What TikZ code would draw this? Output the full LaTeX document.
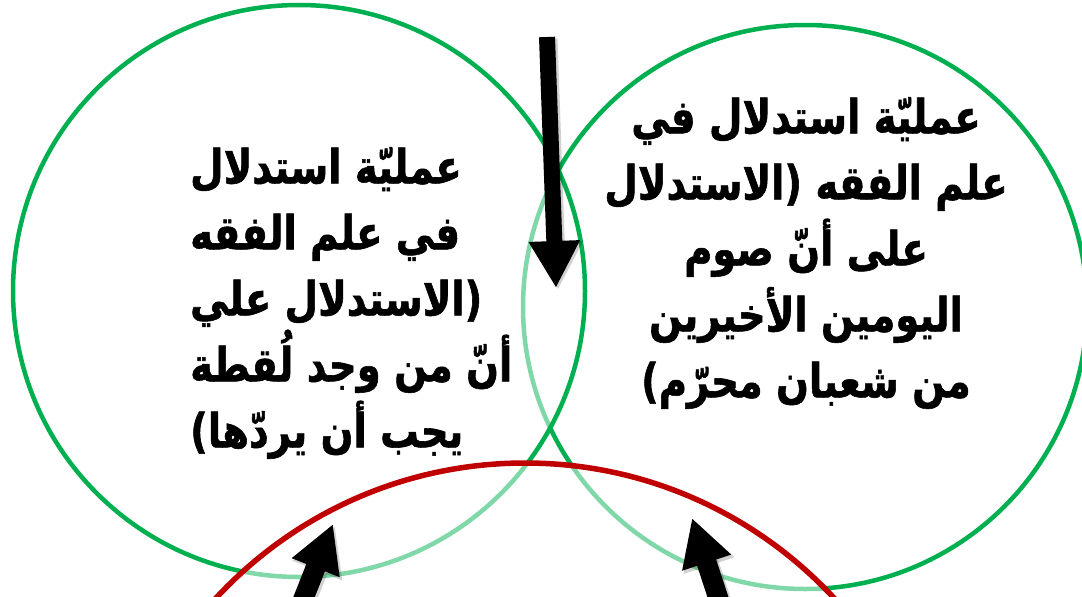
\documentclass[tikz,border=0pt]{standalone}
\usepackage{fontspec}
\usetikzlibrary{arrows.meta}
\TeXXeTstate=1
\newfontfamily\arabicfont[Script=Arabic,FakeStretch=0.82,FakeBold=1.2]{DejaVu Sans}
\definecolor{pgreen}{HTML}{00B050}
\definecolor{pred}{HTML}{C00000}
\tikzset{
  ring/.style={circle, inner sep=0pt, minimum size=#1},
  greenring/.style={ring=#1, draw=pgreen, line width=4.5pt},
  redring/.style={ring=#1, draw=pred, line width=5.5pt, fill=white, fill opacity=0.5, draw opacity=1},
  veil/.style={fill=white, fill opacity=0.5, draw opacity=1},
  blockarrow/.style={line width=#1, -{Triangle[width=48pt,length=47pt]}},
  arrowshadow/.style={line width=#1, black, opacity=0.18, -{Triangle[width=50pt,length=48pt]}},
  arabtext/.style={font=\arabicfont\bfseries\fontsize{47}{66}\selectfont, inner sep=0pt}
}
\begin{document}
\begin{tikzpicture}[x=1pt,y=-1pt]
\useasboundingbox (0,0) rectangle (1082,597);
\clip (0,0) rectangle (1082,597);
\fill[white] (0,0) rectangle (1082,597);
% circles
\node[greenring=564pt] (rightc) at (805,307) {};
\node[greenring=572pt, veil] (leftc) at (299,291) {};
\node[redring=842pt] (redc) at (525,884) {};
% texts
\node[arabtext, align=left, anchor=west] (lefttext) at (190,303) {%
\beginR عمليّة استدلال\endR\\
\beginR في علم الفقه\endR\\
\beginR (الاستدلال علي\endR\\
\beginR أنّ من وجد لُقطة\endR\\
\beginR يجب أن يردّها)\endR};
\node[arabtext, align=center] (righttext) at (806,253) {%
\beginR عمليّة استدلال في\endR\\
\beginR علم الفقه (الاستدلال\endR\\
\beginR على أنّ صوم\endR\\
\beginR اليومين الأخيرين\endR\\
\beginR من شعبان محرّم)\endR};
% arrows
\coordinate (topTail) at (547,37);
\coordinate (topTip) at (556,288);
\coordinate (lTail) at (287,640);
\coordinate (lTip) at (333,524);
\coordinate (rTail) at (734,646);
\coordinate (rTip) at (692,518);
\draw[arrowshadow=17pt] ([shift={(2,2)}]topTail) -- ([shift={(2,2)}]topTip);
\draw[arrowshadow=21pt] ([shift={(2,2)}]lTail) -- ([shift={(2,2)}]lTip);
\draw[arrowshadow=21pt] ([shift={(2,2)}]rTail) -- ([shift={(2,2)}]rTip);
\draw[blockarrow=16pt] (topTail) -- (topTip);
\draw[blockarrow=20pt] (lTail) -- (lTip);
\draw[blockarrow=20pt] (rTail) -- (rTip);
\end{tikzpicture}
\end{document}
